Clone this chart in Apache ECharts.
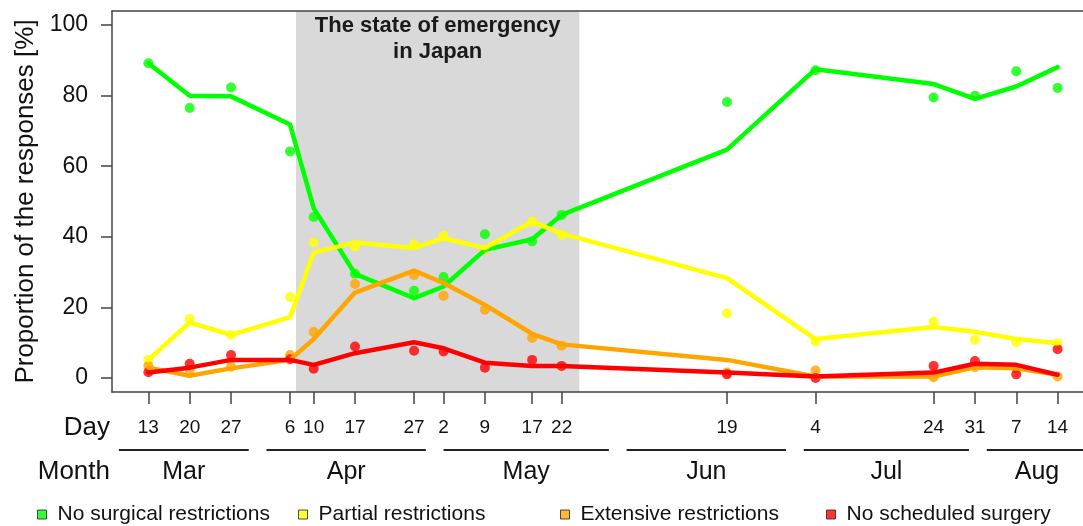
<!DOCTYPE html>
<html>
<head>
<meta charset="utf-8">
<script src="https://cdn.jsdelivr.net/npm/echarts@6/dist/echarts.min.js"></script>
<style>
  html, body { margin: 0; padding: 0; background: #fff; }
  #chart { width: 1083px; height: 526px; }
</style>
</head>
<body>
<div id="chart"></div>
<script>
// survey dates
const dates = ['2020-03-13', '2020-03-20', '2020-03-27', '2020-04-06', '2020-04-10', '2020-04-17',
  '2020-04-27', '2020-05-02', '2020-05-09', '2020-05-17', '2020-05-22', '2020-06-19',
  '2020-07-04', '2020-07-24', '2020-07-31', '2020-08-07', '2020-08-14'];

// observed proportions (points) and trend (lines), %
const noRestrictPts   = [89.2, 76.5, 82.3, 64.2, 45.6, 29.5, 24.7, 28.6, 40.7, 38.7, 46.2, 78.2, 87.2, 79.5, 80.0, 86.9, 82.2];
const noRestrictLine  = [89.2, 80.0, 79.8, 71.8, 48.1, 29.5, 22.6, 25.9, 36.3, 39.3, 46.2, 64.7, 87.5, 83.3, 79.1, 82.6, 88.1];
const partialPts      = [5.1, 16.7, 12.2, 22.9, 38.4, 37.2, 37.9, 40.3, 36.3, 44.3, 40.6, 18.3, 10.3, 16.0, 10.8, 10.1, 9.8];
const partialLine     = [5.1, 15.7, 12.2, 17.2, 35.5, 38.4, 36.8, 39.6, 36.8, 44.3, 40.9, 28.3, 11.0, 14.4, 13.1, 11.0, 9.8];
const extensivePts    = [3.4, 2.3, 3.2, 6.5, 13.0, 26.6, 29.2, 23.3, 19.3, 11.3, 9.1, 1.5, 2.1, 0.2, 3.0, 2.7, 0.4];
const extensiveLine   = [2.9, 0.6, 2.7, 5.1, 11.0, 24.2, 30.4, 26.9, 20.7, 12.5, 9.5, 5.1, 0.4, 0.4, 3.0, 2.7, 0.9];
const noSurgeryPts    = [1.6, 4.0, 6.5, 5.3, 2.6, 8.9, 7.7, 7.5, 2.9, 5.1, 3.4, 1.0, 0.0, 3.4, 4.8, 1.0, 8.1];
const noSurgeryLine   = [1.5, 2.9, 5.1, 5.1, 3.7, 7.0, 10.1, 8.4, 4.3, 3.4, 3.4, 1.5, 0.4, 1.5, 4.0, 3.7, 0.9];

const categories = ['No surgical restrictions', 'Partial restrictions', 'Extensive restrictions', 'No scheduled surgery'];
const colors = ['#00ff00', '#ffff00', '#ffa500', '#ff0000'];

const emergency = ['2020-04-07', '2020-05-25'];
const monthNames = ['Mar', 'Apr', 'May', 'Jun', 'Jul', 'Aug'];
const monthSpans = [['2020-03-08', '2020-03-30'], ['2020-04-02', '2020-04-29'], ['2020-05-02', '2020-05-30'],
  ['2020-06-02', '2020-06-29'], ['2020-07-02', '2020-07-30'], ['2020-08-02', '2020-08-19']];
const yTicks = [0, 20, 40, 60, 80, 100];

const FONT = 'Liberation Sans, Arial, sans-serif';
const base = Date.parse(dates[0]);
const dayOf = s => (Date.parse(s) - base) / 864e5;
const dayNums = dates.map(dayOf);
const span = dayNums[dayNums.length - 1];
// original plot range is span +/- 4%, but the picture is cut off on the right
const xMin = -span * 0.04, xMax = 158.3;
const yMin = -4, yMax = 104;

const monthMids = monthSpans.map(m => (dayOf(m[0]) + dayOf(m[1])) / 2);
const dayLabel = v => String(new Date(base + Math.round(v) * 864e5).getUTCDate());
const monthLabel = v => monthNames[monthMids.findIndex(m => Math.abs(m - v) < 0.01)];

const pts = [noRestrictPts, partialPts, extensivePts, noSurgeryPts];
const lns = [noRestrictLine, partialLine, extensiveLine, noSurgeryLine];

const chart = echarts.init(document.getElementById('chart'));

const series = [{
  // month underline segments below the axis + emergency shading
  type: 'custom',
  xAxisIndex: 0,
  yAxisIndex: 0,
  silent: true,
  clip: false,
  encode: { x: [0, 1], y: 2 },
  data: monthSpans.map(m => [dayOf(m[0]), dayOf(m[1]), yMin]),
  renderItem: function (params, api) {
    const s = api.coord([api.value(0), yMin]);
    const e = api.coord([api.value(1), yMin]);
    return {
      type: 'line',
      shape: { x1: s[0], y1: s[1] + 58, x2: e[0], y2: e[1] + 58 },
      style: { stroke: '#222', lineWidth: 2 }
    };
  },
  markArea: {
    silent: true,
    itemStyle: { color: '#d9d9d9' },
    label: {
      show: true,
      position: 'insideTop',
      distance: 2,
      formatter: 'The state of emergency\nin Japan',
      fontFamily: FONT,
      fontSize: 22,
      fontWeight: 'bold',
      lineHeight: 26,
      color: '#1a1a1a'
    },
    data: [[{ xAxis: dayOf(emergency[0]) }, { xAxis: dayOf(emergency[1]) }]]
  }
}];

categories.forEach((name, i) => {
  series.push({
    name: name,
    type: 'scatter',
    symbolSize: 10,
    itemStyle: { color: colors[i] },
    data: dayNums.map((d, k) => [d, pts[i][k]])
  });
});
categories.forEach((name, i) => {
  series.push({
    name: name,
    type: 'line',
    symbol: 'none',
    itemStyle: { color: colors[i] },
    lineStyle: { color: colors[i], width: 4.5, join: 'round', cap: 'round' },
    data: dayNums.map((d, k) => [d, lns[i][k]])
  });
});

const legendLefts = [37, 298, 560, 826];
const legends = categories.map((name, i) => ({
  data: [{ name: name, icon: 'rect' }],
  left: legendLefts[i],
  top: 504,
  padding: 0,
  itemWidth: 9,
  itemHeight: 9,
  itemStyle: { borderColor: '#222', borderWidth: 1 },
  textStyle: { fontFamily: FONT, fontSize: 21, color: '#111', padding: [0, 0, 0, 6] },
  selectedMode: false
}));

const option = {
  animation: false,
  textStyle: { fontFamily: FONT },
  grid: { left: 112, top: 11, bottom: 134, right: 0 },
  legend: legends,
  xAxis: [{
    type: 'value',
    min: xMin,
    max: xMax,
    z: 10,
    splitLine: { show: false },
    axisLine: { show: true, onZero: false, lineStyle: { color: '#444', width: 1.5 } },
    axisTick: { show: true, customValues: dayNums, length: 12, lineStyle: { color: '#444', width: 1.5 } },
    axisLabel: { customValues: dayNums, formatter: dayLabel, fontSize: 19, color: '#111', margin: 26 }
  }, {
    type: 'value',
    min: xMin,
    max: xMax,
    position: 'bottom',
    splitLine: { show: false },
    axisLine: { show: false },
    axisTick: { show: false },
    axisLabel: { customValues: monthMids, formatter: monthLabel, fontSize: 25, color: '#111', margin: 68 }
  }, {
    type: 'value',
    min: xMin,
    max: xMax,
    position: 'top',
    z: 10,
    splitLine: { show: false },
    axisLine: { show: true, onZero: false, lineStyle: { color: '#444', width: 1.5 } },
    axisTick: { show: false },
    axisLabel: { show: false }
  }],
  yAxis: {
    type: 'value',
    min: yMin,
    max: yMax,
    z: 10,
    name: 'Proportion of the responses [%]',
    nameLocation: 'middle',
    nameRotate: 90,
    nameGap: 59,
    nameTextStyle: { fontSize: 26, color: '#111' },
    splitLine: { show: false },
    axisLine: { show: true, onZero: false, lineStyle: { color: '#444', width: 1.5 } },
    axisTick: { show: true, customValues: yTicks, length: 11, lineStyle: { color: '#444', width: 1.5 } },
    axisLabel: { customValues: yTicks, fontSize: 23, color: '#111', margin: 24 }
  },
  graphic: [{
    type: 'text',
    right: 1083 - 110,
    top: 415,
    style: { text: 'Day', fontFamily: FONT, fontSize: 26, fill: '#111', textAlign: 'right' }
  }, {
    type: 'text',
    right: 1083 - 110,
    top: 459,
    style: { text: 'Month', fontFamily: FONT, fontSize: 26, fill: '#111', textAlign: 'right' }
  }],
  series: series
};

chart.setOption(option);
</script>
</body>
</html>
